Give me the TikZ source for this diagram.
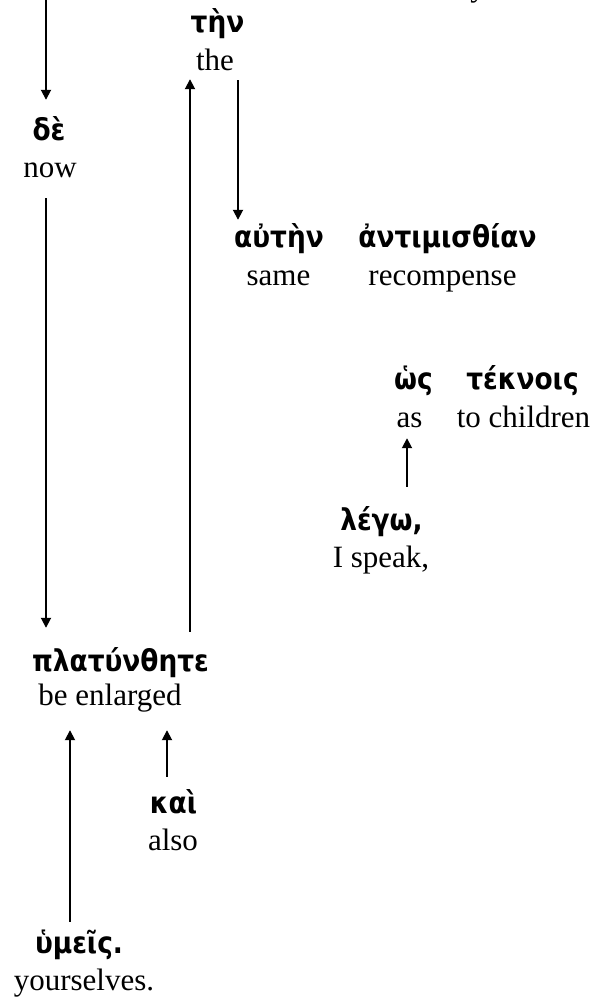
\documentclass[tikz,border=0pt]{standalone}
\usepackage{fontspec}
\setmainfont{Liberation Serif}
\newfontfamily\grkfont{DejaVu Sans}[FakeStretch=0.88]
\usetikzlibrary{arrows.meta}
\tikzset{
  gk/.style={anchor=base, inner sep=0pt, text height=20pt, text depth=6pt,
    font=\grkfont\bfseries\fontsize{30}{36}\selectfont},
  en/.style={anchor=base, inner sep=0pt, text height=22pt, text depth=7pt,
    font=\fontsize{31}{36}\selectfont},
  arr/.style={line width=1.8pt, -{Triangle[length=10pt,width=10pt]}}
}
\begin{document}
\begin{tikzpicture}[x=1pt,y=-1pt]
\useasboundingbox (0,0) rectangle (597,1001);
\begin{scope}
\clip (0,0) rectangle (597,1001);
\node[en] (yfrag) at (478,-3) {y};
\end{scope}
% x positions of the connectors
\coordinate (top) at (46,0);
\coordinate (xa) at (46,0);
\coordinate (xb) at (190,0);
\coordinate (xc) at (238,0);
\coordinate (xd) at (407,0);
\coordinate (xe) at (167,0);
\coordinate (xf) at (70,0);
% words
\node[gk] (tin) at (217.5,32) {τὴν};
\node[en] (the) at (215,70) {the};
\node[gk] (de) at (49,140) {δὲ};
\node[en] (now) at (50,177) {now};
\node[gk] (aut) at (279,247) {αὐτὴν};
\node[en] (same) at (278.5,285) {same};
\node[gk] (ant) at (447.5,247) {ἀντιμισθίαν};
\node[en] (rec) at (442.5,285) {recompense};
\node[gk] (hos) at (413.5,389) {ὡς};
\node[en] (as) at (409.5,427) {as};
\node[gk] (tek) at (522.5,389) {τέκνοις};
\node[en] (chi) at (523.5,427) {to children};
\node[gk] (lego) at (381.5,530) {λέγω,};
\node[en] (spk) at (381,567) {I speak,};
\node[gk] (plat) at (120.5,671) {πλατύνθητε};
\node[en] (enl) at (110,705) {be enlarged};
\node[gk] (kai) at (173.5,813) {καὶ};
\node[en] (also) at (173,850) {also};
\node[gk] (hym) at (79,953) {ὑμεῖς.};
\node[en] (your) at (84,990) {yourselves.};
% connectors
\draw[arr, shorten >=20pt] (top) -- (de.north -| xa);
\draw[arr, shorten <=14pt, shorten >=23pt] (now.south -| xa) -- (plat.north -| xa);
\draw[arr, shorten <=19pt, shorten >=2pt] (plat.north -| xb) -- (the.south -| xb);
\draw[arr, shorten <=3pt, shorten >=7pt] (the.south -| xc) -- (aut.north -| xc);
\draw[arr, shorten <=23pt, shorten >=4pt] (lego.north -| xd) -- (as.south -| xd);
\draw[arr, shorten <=16pt, shorten >=18pt] (kai.north -| xe) -- (enl.south -| xe);
\draw[arr, shorten <=11pt, shorten >=18pt] (hym.north -| xf) -- (enl.south -| xf);
\end{tikzpicture}
\end{document}
